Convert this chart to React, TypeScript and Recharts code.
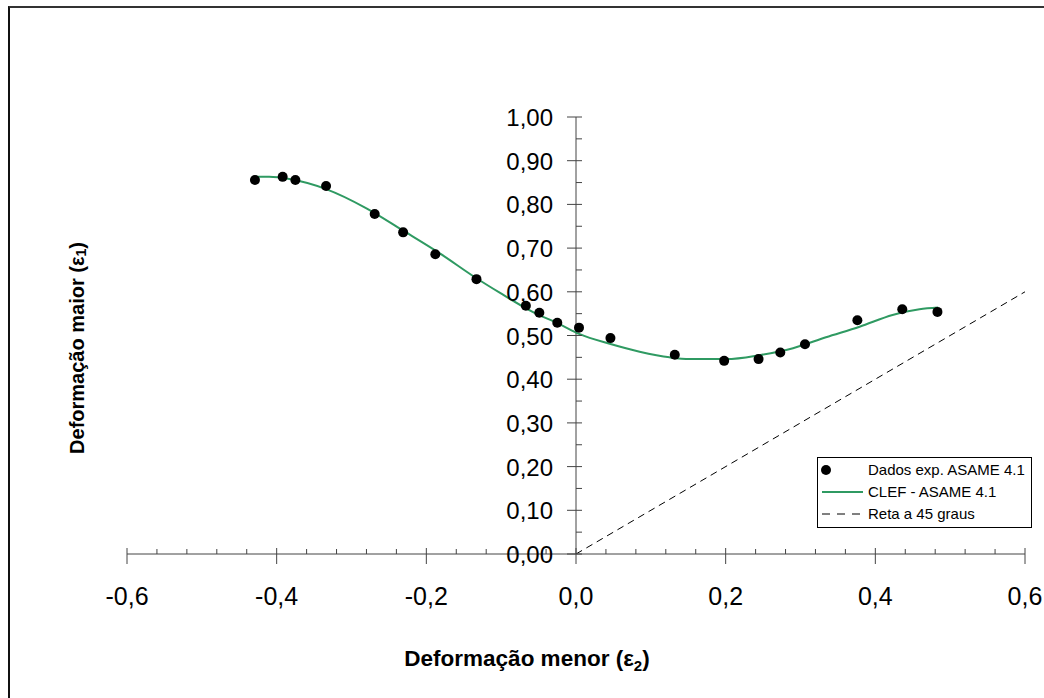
import React from 'react';
import { ComposedChart, XAxis, YAxis, Scatter, Line, ReferenceLine, Legend } from 'recharts';

// Experimental data: Dados exp. ASAME 4.1
const expX = [-0.429, -0.392, -0.375, -0.334, -0.269, -0.231, -0.188, -0.133, -0.067, -0.049, -0.025, 0.004, 0.046, 0.132, 0.198, 0.244, 0.273, 0.306, 0.376, 0.436, 0.483];
const expY = [0.856, 0.863, 0.856, 0.842, 0.778, 0.736, 0.686, 0.629, 0.568, 0.552, 0.529, 0.518, 0.494, 0.456, 0.442, 0.446, 0.461, 0.480, 0.535, 0.560, 0.554];

// Fitted curve: CLEF - ASAME 4.1
const fitX = [-0.429, -0.410, -0.383, -0.334, -0.280, -0.232, -0.182, -0.133, -0.102, -0.058, -0.022, 0.005, 0.045, 0.085, 0.125, 0.152, 0.201, 0.245, 0.290, 0.334, 0.379, 0.423, 0.459, 0.484];
const fitY = [0.863, 0.863, 0.858, 0.835, 0.791, 0.741, 0.688, 0.631, 0.598, 0.554, 0.526, 0.503, 0.481, 0.463, 0.450, 0.446, 0.446, 0.455, 0.471, 0.496, 0.520, 0.547, 0.560, 0.564];

// 45 degree reference line
const refX = [0, 0.6];
const refY = [0, 0.6];

const xMajorTicks = [-0.6, -0.4, -0.2, 0, 0.2, 0.4, 0.6];
const xMinorTicks = [-0.56, -0.52, -0.48, -0.44, -0.36, -0.32, -0.28, -0.24, -0.16, -0.12, -0.08, -0.04, 0.04, 0.08, 0.12, 0.16, 0.24, 0.28, 0.32, 0.36, 0.44, 0.48, 0.52, 0.56];
const yMajorTicks = [0, 0.1, 0.2, 0.3, 0.4, 0.5, 0.6, 0.7, 0.8, 0.9, 1.0];
const yMinorTicks = [0.05, 0.15, 0.25, 0.35, 0.45, 0.55, 0.65, 0.75, 0.85, 0.95];

const legendLabels = ['Dados exp. ASAME 4.1', 'CLEF - ASAME 4.1', 'Reta a 45 graus'];
const xTitle = 'Deformação menor';
const yTitle = 'Deformação maior';

const expData = expX.map((x, i) => ({ x, y: expY[i] }));
const fitData = fitX.map((x, i) => ({ x, y: fitY[i] }));
const refData = refX.map((x, i) => ({ x, y: refY[i] }));
const xTicks = [...xMajorTicks, ...xMinorTicks].sort((a, b) => a - b);
const yTicks = [...yMajorTicks, ...yMinorTicks].sort((a, b) => a - b);

const FONT = '"Liberation Sans", Arial, sans-serif';
const GREEN = '#2f9a62';
const AXIS = '#444';

const CW = 1034;
const CH = 690;
const YAXIS_W = 60;
const XAXIS_H = 60;
const M = { top: 109, left: 117 - YAXIS_W, right: 19, bottom: 84 };
const PLOT_LEFT = M.left + YAXIS_W;
const PLOT_W = CW - PLOT_LEFT - M.right;
const PLOT_BOTTOM = CH - M.bottom - XAXIS_H;
const AXIS_X = PLOT_LEFT + PLOT_W / 2;

const isIn = (arr: number[], v: number) => arr.some((a) => Math.abs(a - v) < 1e-6);

const XTick = (props: any) => {
  const { x, payload } = props;
  const v = payload.value;
  const major = isIn(xMajorTicks, v);
  const ay = PLOT_BOTTOM;
  return (
    <g>
      {major ? (
        <line x1={x} x2={x} y1={ay - 6} y2={ay + 10} stroke={AXIS} strokeWidth={1} />
      ) : (
        <line x1={x} x2={x} y1={ay - 5} y2={ay} stroke={AXIS} strokeWidth={1} />
      )}
      {major && (
        <text x={x} y={ay + 51} textAnchor="middle" fontSize={25} fontFamily={FONT} fill="#000">
          {v.toFixed(1).replace('.', ',')}
        </text>
      )}
    </g>
  );
};

const YTick = (props: any) => {
  const { y, payload } = props;
  const v = payload.value;
  const major = isIn(yMajorTicks, v);
  const ax = AXIS_X;
  return (
    <g>
      {major ? (
        <line x1={ax - 9} x2={ax + 6} y1={y} y2={y} stroke={AXIS} strokeWidth={1} />
      ) : (
        <line x1={ax} x2={ax + 6} y1={y} y2={y} stroke={AXIS} strokeWidth={1} />
      )}
      {major && (
        <text x={ax - 23} y={y + 9} textAnchor="end" fontSize={24} fontFamily={FONT} fill="#000">
          {v.toFixed(2).replace('.', ',')}
        </text>
      )}
    </g>
  );
};

const XTitle = (props: any) => {
  const vb = props.viewBox || {};
  const cx = vb.x + vb.width / 2 - 49;
  const by = vb.y + 112;
  return (
    <text x={cx} y={by} textAnchor="middle" fontSize={22.5} fontWeight="bold" fontFamily={FONT} fill="#000">
      {xTitle} (ε<tspan fontSize={15} dy={5}>2</tspan><tspan dy={-5}>)</tspan>
    </text>
  );
};

const YTitle = () => {
  const cx = 67;
  const cy = 340;
  return (
    <text
      x={cx}
      y={cy}
      transform={`rotate(-90 ${cx} ${cy})`}
      textAnchor="middle"
      dominantBaseline="central"
      fontSize={20}
      fontWeight="bold"
      fontFamily={FONT}
      fill="#000"
    >
      {yTitle} (ε<tspan fontSize={14} dy={4}>1</tspan><tspan dy={-4}>)</tspan>
    </text>
  );
};

const LegendBox = () => (
  <div style={{ width: 215, height: 71, border: '1px solid #000', boxSizing: 'border-box', background: '#fff' }}>
    <svg width={213} height={69} style={{ display: 'block' }}>
      <circle cx={8} cy={12} r={5} fill="#000" />
      <text x={50} y={17} fontSize={15} fontFamily={FONT} fill="#000">{legendLabels[0]}</text>
      <line x1={4} x2={45} y1={34} y2={34} stroke={GREEN} strokeWidth={2} />
      <text x={50} y={39} fontSize={15} fontFamily={FONT} fill="#000">{legendLabels[1]}</text>
      <line x1={4} x2={45} y1={56} y2={56} stroke="#000" strokeWidth={1} strokeDasharray="8 7" />
      <text x={50} y={61} fontSize={15} fontFamily={FONT} fill="#000">{legendLabels[2]}</text>
    </svg>
  </div>
);

export default function App() {
  return (
    <div
      style={{
        position: 'absolute',
        top: 6,
        left: 8,
        width: 1036,
        height: 692,
        borderTop: '2px solid #333',
        borderLeft: '2px solid #111',
        boxSizing: 'border-box',
        background: '#fff',
      }}
    >
      <ComposedChart width={CW} height={CH} margin={M}>
        <XAxis
          type="number"
          dataKey="x"
          domain={[-0.6, 0.6]}
          ticks={xTicks}
          interval={0}
          tickLine={false}
          axisLine={{ stroke: AXIS }}
          tick={<XTick />}
          height={XAXIS_H}
          allowDataOverflow
          label={<XTitle />}
        />
        <YAxis
          type="number"
          dataKey="y"
          domain={[0, 1]}
          ticks={yTicks}
          interval={0}
          tickLine={false}
          axisLine={false}
          tick={<YTick />}
          width={YAXIS_W}
          allowDataOverflow
          label={<YTitle />}
        />
        <ReferenceLine x={0} stroke={AXIS} strokeWidth={1} />
        <Line
          data={refData}
          dataKey="y"
          type="linear"
          stroke="#000"
          strokeWidth={1}
          strokeDasharray="7 5"
          dot={false}
          isAnimationActive={false}
          legendType="none"
        />
        <Line
          data={fitData}
          dataKey="y"
          type="monotone"
          stroke={GREEN}
          strokeWidth={2}
          dot={false}
          isAnimationActive={false}
        />
        <Scatter
          data={expData}
          dataKey="y"
          fill="#000"
          isAnimationActive={false}
          shape={(p: any) => <circle cx={p.cx} cy={p.cy} r={5} fill="#000" />}
        />
        <Legend
          layout="horizontal"
          verticalAlign="middle"
          align="center"
          content={<LegendBox />}
          wrapperStyle={{ position: 'absolute', left: 807, top: 449, width: 215, height: 71 }}
        />
      </ComposedChart>
    </div>
  );
}
